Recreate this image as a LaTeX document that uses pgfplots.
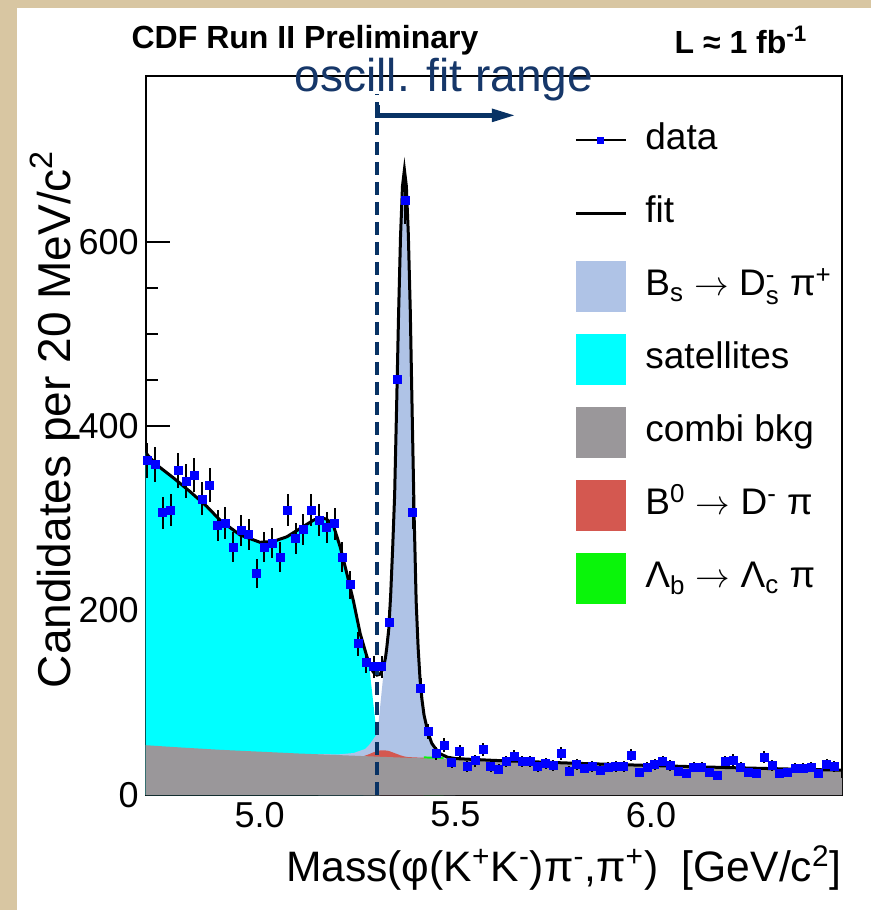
\documentclass[border=0pt]{standalone}
\usepackage{fontspec}
\setmainfont{Liberation Sans}
\usepackage{amsmath}
\usepackage{pgfplots}
\usepackage{pgfplotstable}
\pgfplotsset{compat=1.18}
\usetikzlibrary{arrows.meta}
\definecolor{bgbeige}{RGB}{216,198,162}
\definecolor{satcyan}{RGB}{0,255,255}
\definecolor{bsblue}{RGB}{175,195,230}
\definecolor{bkggray}{RGB}{154,151,154}
\definecolor{bzred}{RGB}{212,88,80}
\definecolor{lbgreen}{RGB}{10,245,10}
\definecolor{navy}{RGB}{8,50,100}
\definecolor{navytext}{RGB}{22,55,105}

\pgfplotstableread{
m n e
4.7130 363 19.1
4.7330 358 18.9
4.7529 306 17.5
4.7729 309 17.6
4.7928 352 18.8
4.8128 340 18.4
4.8327 347 18.6
4.8527 321 17.9
4.8726 336 18.3
4.8926 292 17.1
4.9125 295 17.2
4.9325 269 16.4
4.9524 287 16.9
4.9724 283 16.8
4.9923 240 15.5
5.0123 269 16.4
5.0322 273 16.5
5.0522 258 16.1
5.0721 309 17.6
5.0921 278 16.7
5.1120 288 17.0
5.1320 309 17.6
5.1519 298 17.3
5.1719 290 17.0
5.1918 294 17.1
5.2118 258 16.1
5.2317 228 15.1
5.2517 164 12.8
5.2716 144 12.0
5.2916 139 11.8
5.3115 139 11.8
5.3315 187 13.7
5.3514 451 21.2
5.3714 645 25.4
5.3913 306 17.5
5.4113 116 10.8
5.4312 69 8.3
5.4512 45 6.7
5.4711 54 7.3
5.4911 35 5.9
5.5110 47 6.9
5.5310 31 5.6
5.5509 37 6.1
5.5709 49 7.0
5.5908 31 5.6
5.6108 28 5.3
5.6307 36 6.0
5.6507 42 6.5
5.6706 36 6.0
5.6906 36 6.0
5.7105 31 5.6
5.7305 34 5.8
5.7504 32 5.7
5.7704 45 6.7
5.7903 26 5.1
5.8103 33 5.7
5.8302 29 5.4
5.8502 31 5.6
5.8701 27 5.2
5.8901 30 5.5
5.9100 31 5.6
5.9300 31 5.6
5.9499 43 6.6
5.9699 24 4.9
5.9898 30 5.5
6.0098 33 5.7
6.0297 36 6.0
6.0497 32 5.7
6.0696 26 5.1
6.0896 23 4.8
6.1095 30 5.5
6.1295 30 5.5
6.1494 25 5.0
6.1694 21 4.6
6.1893 36 6.0
6.2093 38 6.2
6.2292 30 5.5
6.2492 25 5.0
6.2691 23 4.8
6.2891 41 6.4
6.3090 32 5.7
6.3290 23 4.8
6.3489 24 4.9
6.3689 29 5.4
6.3888 29 5.4
6.4088 30 5.5
6.4287 23 4.8
6.4487 33 5.7
6.4686 31 5.6
6.4886 23 4.8
}\datatab

\begin{document}
\begin{tikzpicture}[x=1pt,y=1pt]
\fill[bgbeige] (0,0) rectangle (435.5,455);
\fill[white] (8.5,0) rectangle (435.5,451);
\path[use as bounding box] (0,0) rectangle (435.5,455);
\begin{axis}[
  at={(72.85pt,57.5pt)}, anchor=south west,
  width=348.15pt, height=359.65pt, scale only axis,
  xmin=4.709, xmax=6.488, ymin=0, ymax=780,
  xtick={5.0,5.5,6.0}, minor x tick num=4,
  ytick={0,200,400,600}, minor y tick num=3,
  tick pos=left, tick align=inside,
  major tick length=12pt, minor tick length=6pt,
  tick style={black, line width=0.8pt},
  axis line style={line width=1pt},
  /pgf/number format/assume math mode=true,
  tick label style={font=\fontsize{18}{21}\selectfont},
  x tick label style={/pgf/number format/.cd, fixed, fixed zerofill, precision=1},
  y tick label style={/pgf/number format/.cd, fixed, precision=0},
  xlabel={Mass(φ(K$^{\text{+}}$K$^{\text{-}}$)π$^{\text{-}}$,π$^{\text{+}}$)~~[GeV/c$^{\text{2}}$]},
  xlabel style={at={(axis description cs:1,0)}, anchor=north east, inner sep=0pt, yshift=-25pt, font=\fontsize{21.3}{25}\selectfont},
  ylabel={Candidates per 20 MeV/c$^{\text{2}}$},
  ylabel style={at={(axis description cs:-0.094,0.897)}, anchor=south east, inner sep=0pt, font=\fontsize{23}{27}\selectfont},
  legend style={at={(axis description cs:0.6151,0.9613)}, anchor=north west, draw=none, fill=none, inner sep=0pt, row sep=0pt, column sep=9pt, font=\fontsize{18.5}{22}\selectfont, nodes={inner sep=0pt, text height=13.5pt, text depth=4pt, anchor=west}},
  legend cell align=left,
]
\addlegendimage{legend image code/.code={\path[draw=none,fill=none] (0pt,-18.25pt) rectangle (25pt,18.25pt); \draw[black, line width=1pt] (0pt,0pt) -- (25pt,0pt); \fill[blue, draw=none] (10.75pt,-1.75pt) rectangle (14.25pt,1.75pt);}}
\addlegendentry{data}
\addlegendimage{legend image code/.code={\path[draw=none,fill=none] (0pt,-18.25pt) rectangle (25pt,18.25pt); \draw[black, line width=1.5pt] (0pt,0pt) -- (25pt,0pt);}}
\addlegendentry{fit}
\addlegendimage{legend image code/.code={\path[draw=none,fill=none] (0pt,-18.25pt) rectangle (25pt,18.25pt); \fill[bsblue, draw=none] (0pt,-12.75pt) rectangle (25pt,12.75pt);}}
\addlegendentry{B$_{\text{s}}$ $\rightarrow$ D$^{\text{-}}_{\text{s}}$ π$^{\text{+}}$}
\addlegendimage{legend image code/.code={\path[draw=none,fill=none] (0pt,-18.25pt) rectangle (25pt,18.25pt); \fill[satcyan, draw=none] (0pt,-12.75pt) rectangle (25pt,12.75pt);}}
\addlegendentry{satellites}
\addlegendimage{legend image code/.code={\path[draw=none,fill=none] (0pt,-18.25pt) rectangle (25pt,18.25pt); \fill[bkggray, draw=none] (0pt,-12.75pt) rectangle (25pt,12.75pt);}}
\addlegendentry{combi bkg}
\addlegendimage{legend image code/.code={\path[draw=none,fill=none] (0pt,-18.25pt) rectangle (25pt,18.25pt); \fill[bzred, draw=none] (0pt,-12.75pt) rectangle (25pt,12.75pt);}}
\addlegendentry{B$^{\text{0}}$ $\rightarrow$ D$^{\text{-}}$ π}
\addlegendimage{legend image code/.code={\path[draw=none,fill=none] (0pt,-18.25pt) rectangle (25pt,18.25pt); \fill[lbgreen, draw=none] (0pt,-12.75pt) rectangle (25pt,12.75pt);}}
\addlegendentry{Λ$_{\text{b}}$ $\rightarrow$ Λ$_{\text{c}}$ π}

% satellites
\addplot[forget plot, draw=none, fill=satcyan] coordinates {
(4.709,371) (4.7371,358) (4.7795,344) (4.8223,329) (4.8650,313) (4.8990,298) (4.9501,282) (5.0013,274) (5.0353,275) (5.0696,280) (5.1036,289) (5.1376,298) (5.1547,301) (5.1719,299) (5.1887,292) (5.2059,269) (5.2230,240) (5.2399,210) (5.2570,175) (5.2742,150) (5.2813,135) (5.3013,58) (5.3080,41)
} \closedcycle;
% Bs signal
\addplot[forget plot, draw=none, fill=bsblue] coordinates {
(5.1500,44.5) (5.2000,44) (5.2400,45.5) (5.2700,50) (5.2813,55) (5.3013,67) (5.3166,132) (5.3220,150) (5.3250,160) (5.3300,178) (5.3350,215) (5.3400,265) (5.3450,322) (5.3500,418) (5.3550,518) (5.3600,603) (5.3650,658) (5.3700,676) (5.3750,658) (5.3800,606) (5.3850,523) (5.3900,408) (5.3950,298) (5.4000,208) (5.4050,158) (5.4100,123) (5.4150,101) (5.4200,85) (5.4300,66) (5.4400,54) (5.4500,47) (5.4600,43) (5.4800,40) (5.5000,39)
} \closedcycle;
% B0 -> D pi
\addplot[forget plot, draw=none, fill=bzred] coordinates {
(5.265,42.0) (5.28,44.3) (5.29,46.2) (5.30,47.6) (5.31,48.5) (5.32,48.4) (5.33,47.8) (5.34,46.2) (5.35,44.6) (5.36,43.0) (5.37,41.8) (5.38,41.1) (5.40,40.7) (5.42,40.4)
} \closedcycle;
% Lambda_b
\addplot[forget plot, draw=none, fill=lbgreen] coordinates {
(5.42,41.8) (5.445,41.6) (5.47,41.3)
} \closedcycle;
% combinatorial background
\addplot[forget plot, draw=none, fill=bkggray] coordinates {
(4.709,54) (4.8,51.5) (4.9,49) (5.0,47) (5.1,45) (5.2,43.3) (5.3,41.6) (5.4,40) (5.5,38.5) (5.6,37) (5.7,35.6) (5.8,34.3) (5.9,33) (6.0,31.8) (6.1,30.6) (6.2,29.5) (6.3,28.5) (6.4,27.5) (6.488,26.7)
} \closedcycle;
% fit
\addplot[forget plot, black, line width=1.5pt] coordinates {
(4.709,371) (4.7371,358) (4.7795,344) (4.8223,329) (4.8650,313) (4.8990,298) (4.9501,282) (5.0013,274) (5.0353,275) (5.0696,280) (5.1036,289) (5.1376,298) (5.1547,301) (5.1719,299) (5.1887,292) (5.2059,269) (5.2230,240) (5.2399,210) (5.2570,175) (5.2742,150) (5.2830,139) (5.2910,133) (5.3000,130) (5.3080,131) (5.3166,138) (5.3220,150) (5.3250,160) (5.3300,180) (5.3350,218) (5.3400,268) (5.3450,325) (5.3500,420) (5.3550,520) (5.3600,605) (5.3650,660) (5.3700,678) (5.3750,660) (5.3800,608) (5.3850,525) (5.3900,410) (5.3950,300) (5.4000,210) (5.4050,160) (5.4100,125) (5.4150,103) (5.4200,87) (5.4300,68) (5.4400,56) (5.4500,50) (5.4600,45) (5.4800,41) (5.5000,39.5) (5.6,37.5) (5.7,36) (5.8,34.5) (5.9,33.2) (6.0,32) (6.1,30.8) (6.2,29.7) (6.3,28.7) (6.4,27.7) (6.488,26.9)
};
% data
\addplot[forget plot, only marks, mark=square*, mark size=2pt, color=blue,
  error bars/.cd, y dir=both, y explicit, error bar style={black, line width=1pt}, error mark=none]
  table[x=m, y=n, y error=e] {\datatab};
% oscillation fit range marker
\draw[navy, line width=1.65pt, dash pattern=on 6.5pt off 3.5pt] (axis cs:5.30,0) -- (axis cs:5.30,760);
\draw[navy, line width=2.5pt, -{Triangle[length=12pt,width=6pt]}] (axis cs:5.30,748) |- (axis cs:5.655,737);
\end{axis}
\node[font=\fontsize{16}{19}\selectfont\bfseries] at (152.5,435) {CDF Run II Preliminary};
\node[font=\fontsize{16}{19}\selectfont\bfseries] at (370.5,435) {L ≈ 1 fb$^{\text{-1}}$};
\node[font=\fontsize{23}{27}\selectfont, text=navytext] at (222,415) {oscill. fit range};
\end{tikzpicture}
\end{document}
